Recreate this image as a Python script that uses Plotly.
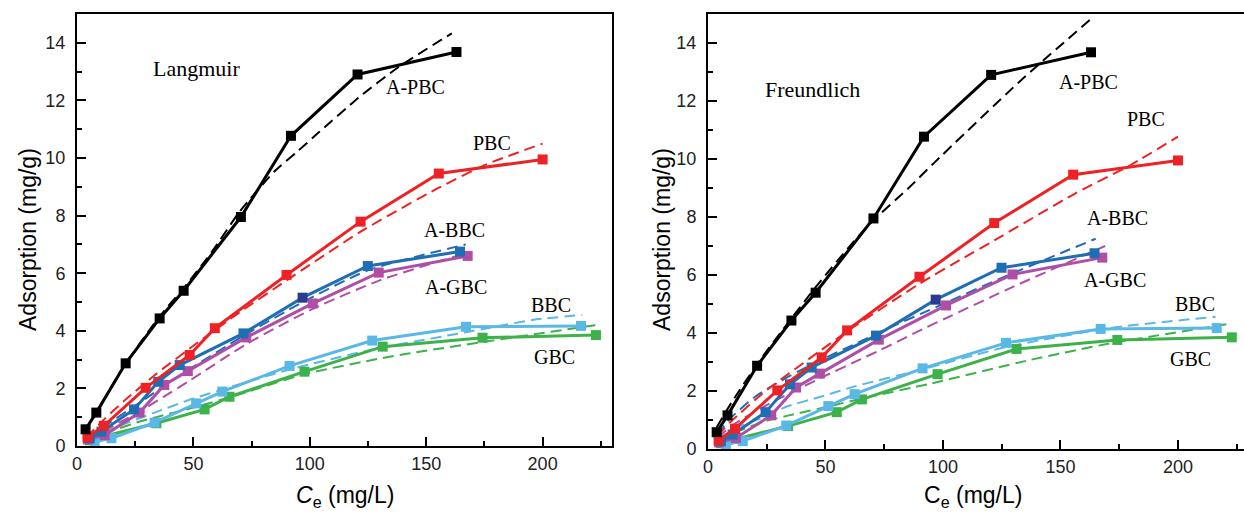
import plotly.graph_objects as go

# ---------------- experimental data (same in both panels) ----------------
ce_apbc = [3.7, 8.3, 20.9, 35.5, 45.8, 70.4, 91.9, 120.5, 163.0]
q_apbc = [0.58, 1.16, 2.87, 4.43, 5.39, 7.95, 10.77, 12.9, 13.68]

ce_pbc = [4.5, 11.5, 29.5, 48.4, 59.2, 90.0, 121.8, 155.4, 200.0]
q_pbc = [0.30, 0.70, 2.02, 3.16, 4.09, 5.94, 7.79, 9.46, 9.95]

ce_abbc = [5.5, 10.5, 24.5, 34.9, 44.1, 71.5, 96.9, 124.9, 164.5]
q_abbc = [0.27, 0.50, 1.27, 2.23, 2.81, 3.91, 5.15, 6.25, 6.75]

ce_agbc = [4.7, 11.9, 26.9, 37.5, 47.6, 72.7, 101.3, 129.6, 167.8]
q_agbc = [0.23, 0.38, 1.16, 2.12, 2.60, 3.77, 4.95, 6.02, 6.60]

ce_bbc = [7.6, 14.8, 33.3, 51.2, 62.4, 91.3, 126.8, 167.1, 216.5]
q_bbc = [0.15, 0.27, 0.81, 1.48, 1.89, 2.78, 3.66, 4.14, 4.17]

ce_gbc = [5.5, 12.0, 34.1, 54.8, 65.5, 97.7, 131.3, 174.2, 222.9]
q_gbc = [0.20, 0.35, 0.79, 1.27, 1.71, 2.58, 3.45, 3.76, 3.85]

# ---------------- Langmuir fit curves ----------------
lx_apbc = [3.0, 10, 20, 35, 47, 58, 70, 85, 95, 104, 121, 138, 161]
ly_apbc = [0.45, 1.4, 2.75, 4.45, 5.6, 6.75, 8.15, 9.55, 10.25, 10.9, 12.1, 13.15, 14.33]
lx_pbc = [4, 12, 20, 34, 52, 70, 90, 122, 155, 175, 200]
ly_pbc = [0.3, 0.95, 1.55, 2.5, 3.6, 4.65, 5.75, 7.45, 8.95, 9.75, 10.5]
lx_abbc = [5, 12, 25, 35, 45, 72, 97, 125, 167]
ly_abbc = [0.3, 0.7, 1.4, 1.95, 2.5, 3.85, 5.0, 6.1, 7.0]
lx_agbc = [5, 12, 27, 37, 48, 73, 101, 130, 168]
ly_agbc = [0.25, 0.55, 1.2, 1.7, 2.25, 3.55, 4.75, 5.75, 6.72]
lx_bbc = [5, 15, 33, 50, 62, 91, 127, 167, 196, 217]
ly_bbc = [0.25, 0.6, 1.15, 1.65, 1.95, 2.65, 3.35, 3.95, 4.38, 4.55]
lx_gbc = [5, 14, 27, 34, 53, 66, 98, 131, 143, 175, 223]
ly_gbc = [0.2, 0.5, 0.85, 1.0, 1.4, 1.7, 2.5, 3.05, 3.22, 3.62, 4.2]

# ---------------- Freundlich fit curves ----------------
fx_apbc = [3.7, 10, 22, 35, 46, 62, 70, 86, 96, 133, 164]
fy_apbc = [0.75, 1.6, 3.05, 4.45, 5.6, 7.15, 7.85, 9.05, 9.85, 12.7, 14.9]
fx_pbc = [4, 9.4, 25, 48, 60, 90, 109, 122, 156, 180, 200]
fy_pbc = [0.45, 0.92, 2.03, 3.4, 4.1, 5.7, 6.6, 7.2, 8.8, 9.8, 10.77]
fx_abbc = [4, 9.4, 20, 31, 45, 62, 75, 100, 125, 150, 165]
fy_abbc = [0.5, 1.05, 1.8, 2.35, 2.95, 3.6, 4.1, 5.0, 5.9, 6.75, 7.25]
fx_agbc = [4, 12, 27, 38, 48, 65, 73, 93, 101, 130, 169]
fy_agbc = [0.4, 0.9, 1.6, 2.05, 2.45, 3.1, 3.4, 4.2, 4.5, 5.6, 7.0]
fx_bbc = [5, 14, 24, 33, 48, 62, 90, 126, 170, 216]
fy_bbc = [0.4, 0.8, 1.1, 1.45, 1.8, 2.15, 2.72, 3.5, 4.16, 4.56]
fx_gbc = [5, 14, 24, 34, 53, 66, 95, 137, 171, 223]
fy_gbc = [0.3, 0.65, 0.95, 1.15, 1.5, 1.75, 2.26, 3.07, 3.64, 4.33]

# ---------------- labels ----------------
lang_labels = [("Langmuir", 51.2, 13.1, 22), ("A-PBC", 145.4, 12.45, 20), ("PBC", 178.3, 10.51, 20),
               ("A-BBC", 162.1, 7.5, 20), ("A-GBC", 162.8, 5.51, 20), ("BBC", 203.6, 4.9, 20),
               ("GBC", 205.0, 3.1, 20)]
freu_labels = [("Freundlich", 44.5, 12.4, 22), ("A-PBC", 161.8, 12.67, 20), ("PBC", 186.4, 11.37, 20),
               ("A-BBC", 174.3, 7.95, 20), ("A-GBC", 173.2, 5.83, 20), ("BBC", 207.2, 5.0, 20),
               ("GBC", 205.4, 3.09, 20)]

C_BLACK = "#000000"
C_RED = "#EE2224"
C_BLUE = "#1F6DB3"
C_NAVY = "#2B3B90"
C_MAG = "#B04EA6"
C_LBLUE = "#5AB8E6"
C_GREEN = "#3DB14A"

series = [
    (ce_gbc, q_gbc, C_GREEN, lx_gbc, ly_gbc, fx_gbc, fy_gbc),
    (ce_bbc, q_bbc, C_LBLUE, lx_bbc, ly_bbc, fx_bbc, fy_bbc),
    (ce_agbc, q_agbc, C_MAG, lx_agbc, ly_agbc, fx_agbc, fy_agbc),
    (ce_abbc, q_abbc, C_BLUE, lx_abbc, ly_abbc, fx_abbc, fy_abbc),
    (ce_pbc, q_pbc, C_RED, lx_pbc, ly_pbc, fx_pbc, fy_pbc),
    (ce_apbc, q_apbc, C_BLACK, lx_apbc, ly_apbc, fx_apbc, fy_apbc),
]

fig = go.Figure()

for panel in (1, 2):
    xa = "x" if panel == 1 else "x2"
    ya = "y" if panel == 1 else "y2"
    for ce, q, col, lx, ly, fx, fy in series:
        fxs, fys = (lx, ly) if panel == 1 else (fx, fy)
        fig.add_trace(go.Scatter(x=fxs, y=fys, mode="lines", xaxis=xa, yaxis=ya,
                                 line=dict(color=col, width=2, dash="11px,6px", shape="spline", smoothing=0.6),
                                 showlegend=False, hoverinfo="skip"))
    for ce, q, col, lx, ly, fx, fy in series:
        mcols = [col] * len(ce)
        if col == C_BLUE:
            mcols[6] = C_NAVY
        fig.add_trace(go.Scatter(x=ce, y=q, mode="lines+markers", xaxis=xa, yaxis=ya,
                                 line=dict(color=col, width=3),
                                 marker=dict(symbol="square", size=10, color=mcols, line=dict(width=0)),
                                 showlegend=False))

axis_common = dict(showline=True, linecolor="black", linewidth=2, ticks="inside", ticklen=9,
                   tickwidth=2, tickcolor="black", showgrid=False, zeroline=False, automargin=False,
                   tickfont=dict(family="Liberation Sans, Arial", size=18, color="#222222"))
minor_x = dict(ticks="inside", ticklen=5, tickwidth=2, tickcolor="black", dtick=25, tick0=0)
minor_y = dict(ticks="inside", ticklen=5, tickwidth=2, tickcolor="black", dtick=1, tick0=0)

fig.update_layout(
    width=1244, height=514, margin=dict(l=0, r=0, t=0, b=0, autoexpand=False),
    paper_bgcolor="white", plot_bgcolor="white",
    xaxis=dict(domain=[77 / 1244, 612 / 1244], range=[0, 229.8], tickvals=[0, 50, 100, 150, 200],
               minor=minor_x, mirror=True, anchor="y", **axis_common),
    yaxis=dict(domain=[68 / 514, 500 / 514], range=[0, 15], tickvals=list(range(0, 15, 2)),
               minor=minor_y, mirror=True, anchor="x", ticklabelstandoff=6, **axis_common),
    xaxis2=dict(domain=[708 / 1244, 1.0], range=[0, 228.1], tickvals=[0, 50, 100, 150, 200],
                minor=minor_x, mirror=True, anchor="y2", **axis_common),
    yaxis2=dict(domain=[65 / 514, 500 / 514], range=[0, 15], tickvals=list(range(0, 15, 2)),
                minor=minor_y, mirror=False, anchor="x2", ticklabelstandoff=6, **axis_common),
)

annots = []
for txt, x, y, s in lang_labels:
    annots.append(dict(text=txt, x=x, y=y, xref="x", yref="y", showarrow=False,
                       font=dict(family="Liberation Serif, Times New Roman", size=s, color="black")))
for txt, x, y, s in freu_labels:
    annots.append(dict(text=txt, x=x, y=y, xref="x2", yref="y2", showarrow=False,
                       font=dict(family="Liberation Serif, Times New Roman", size=s, color="black")))

title_font = dict(family="Liberation Sans, Arial", size=23, color="black")
annots += [
    dict(text="Adsorption (mg/g)", x=28 / 1244, y=(514 - 240) / 514, xref="paper", yref="paper",
         textangle=-90, showarrow=False, font=title_font, xanchor="center", yanchor="middle"),
    dict(text="Adsorption (mg/g)", x=662 / 1244, y=(514 - 240) / 514, xref="paper", yref="paper",
         textangle=-90, showarrow=False, font=title_font, xanchor="center", yanchor="middle"),
    dict(text="<i>C</i><sub>e</sub> (mg/L)", x=345 / 1244, y=(514 - 496) / 514, xref="paper", yref="paper",
         showarrow=False, font=title_font, xanchor="center", yanchor="middle"),
    dict(text="C<sub>e</sub> (mg/L)", x=973 / 1244, y=(514 - 496) / 514, xref="paper", yref="paper",
         showarrow=False, font=title_font, xanchor="center", yanchor="middle"),
]
fig.update_layout(annotations=annots)

fig.write_html("out.html")
